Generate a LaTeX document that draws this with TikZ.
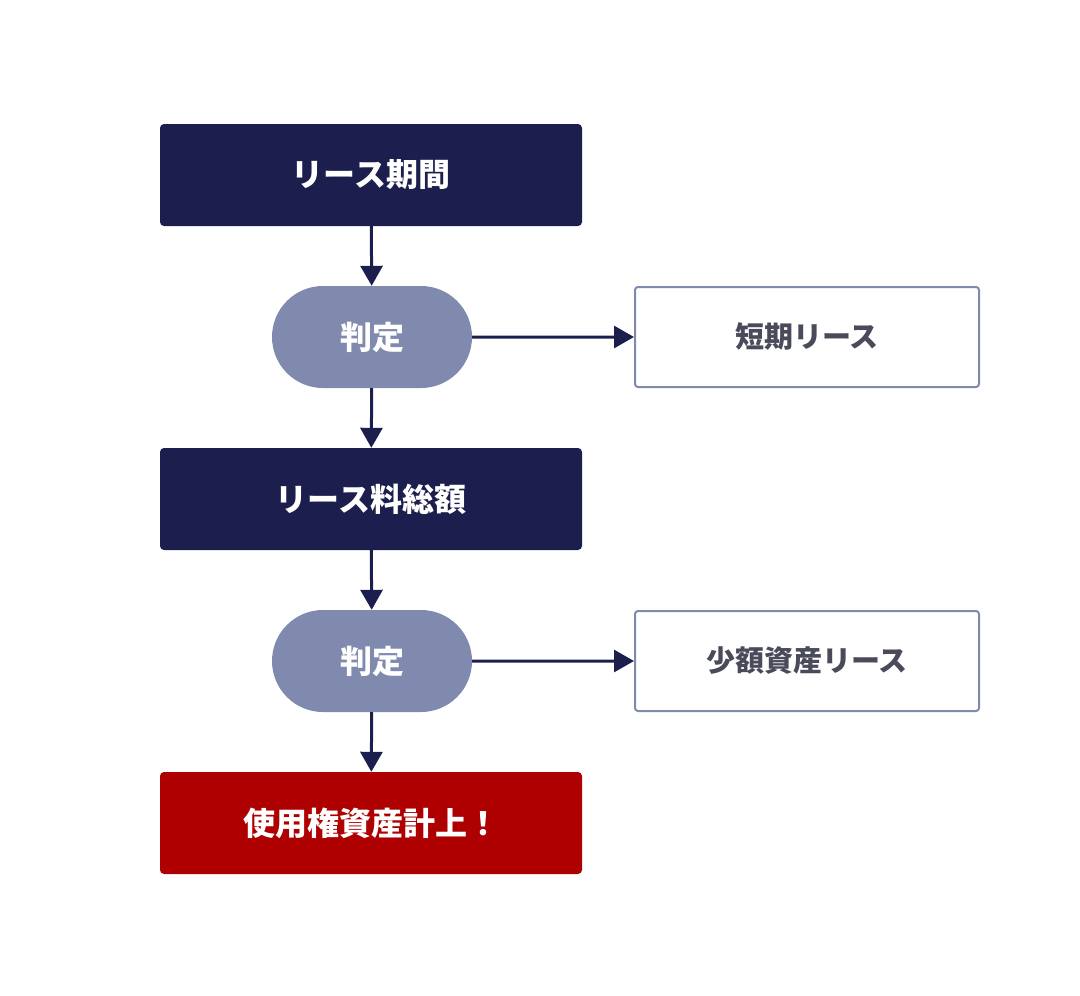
\documentclass[tikz,border=0pt]{standalone}
\usepackage{fontspec}
\setmainfont{Noto Sans CJK JP}
\usetikzlibrary{arrows.meta,shapes.misc}
\definecolor{navy}{HTML}{1C1F4D}
\definecolor{pill}{HTML}{7F8AAE}
\definecolor{redb}{HTML}{AE0000}
\definecolor{txt}{HTML}{4A4B5A}
\begin{document}
\begin{tikzpicture}[x=1pt,y=-1pt,
  mainbox/.style={fill=navy,rounded corners=4pt,minimum width=422pt,minimum height=102pt,text=white,font=\fontsize{32}{38}\selectfont\bfseries,inner sep=0pt},
  pillbox/.style={rounded rectangle,fill=pill,minimum width=200pt,minimum height=102pt,text=white,font=\fontsize{32}{38}\selectfont\bfseries,inner sep=0pt},
  outbox/.style={draw=pill,line width=2pt,rounded corners=3pt,fill=white,minimum width=344pt,minimum height=100pt,text=txt,font=\fontsize{29}{34}\selectfont\bfseries,inner sep=0pt},
  conn/.style={draw=navy,line width=3pt,-{Triangle[length=20pt,width=22pt]}}]
\useasboundingbox (0,0) rectangle (1080,996);
\node[mainbox] (b1) at (371,175) {リース期間};
\node[pillbox] (p1) at (372,337) {判定};
\node[outbox] (o1) at (807,337) {短期リース};
\node[mainbox] (b2) at (371,499) {リース料総額};
\node[pillbox] (p2) at (372,661) {判定};
\node[outbox] (o2) at (807,661) {少額資産リース};
\node[mainbox,fill=redb] (b3) at (371,823) {使用権資産計上！};
\draw[conn] (b1) -- (p1);
\draw[conn] (p1) -- (b2);
\draw[conn] (b2) -- (p2);
\draw[conn] (p2) -- (b3);
\draw[conn] (p1) -- (o1);
\draw[conn] (p2) -- (o2);
\end{tikzpicture}
\end{document}
